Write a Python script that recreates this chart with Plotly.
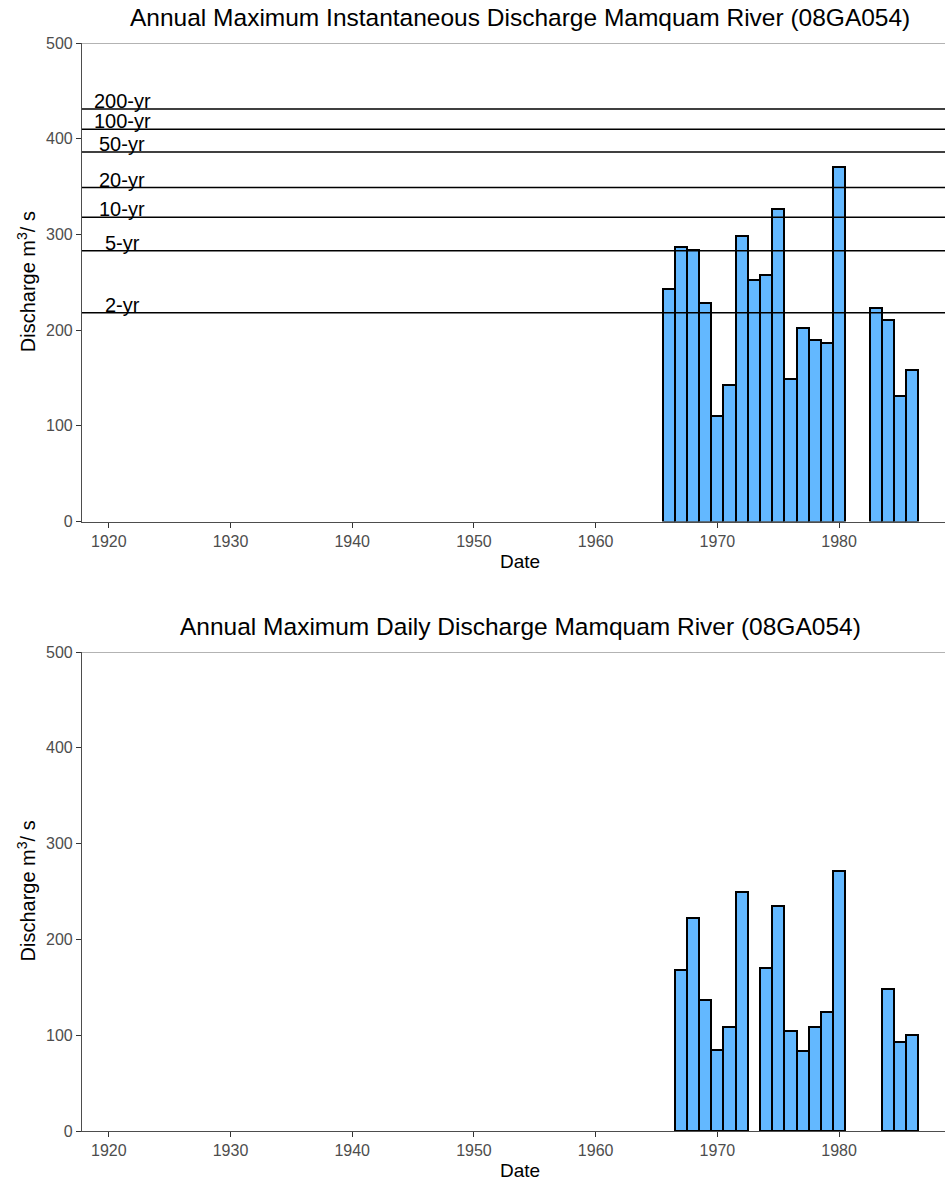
import plotly.graph_objects as go

# Annual maximum instantaneous discharge (m3/s), Mamquam River 08GA054
inst_years = [1966, 1967, 1968, 1969, 1970, 1971, 1972, 1973, 1974, 1975,
              1976, 1977, 1978, 1979, 1980, 1983, 1984, 1985, 1986]
inst_q = [243, 287, 284, 228, 110, 143, 298, 252, 258, 327,
          149, 202, 190, 187, 370, 223, 211, 131, 158]

# Annual maximum daily discharge (m3/s)
daily_years = [1967, 1968, 1969, 1970, 1971, 1972, 1974, 1975, 1976, 1977,
               1978, 1979, 1980, 1984, 1985, 1986]
daily_q = [168, 222, 137, 85, 109, 249, 170, 235, 104, 84,
           109, 124, 271, 148, 93, 100]

# Return-period flood estimates
rp_labels = ["2-yr", "5-yr", "10-yr", "20-yr", "50-yr", "100-yr", "200-yr"]
rp_q = [218, 283, 318, 349, 386, 410, 431]

titles = ["Annual Maximum Instantaneous Discharge Mamquam River (08GA054)",
          "Annual Maximum Daily Discharge Mamquam River (08GA054)"]
x_ticks = [1920, 1930, 1940, 1950, 1960, 1970, 1980]
y_ticks = [0, 100, 200, 300, 400, 500]

FONT = "Liberation Sans, Arial, sans-serif"
BAR_FILL = "#63B8FF"
TICK_GREY = "#4d4d4d"

W, H = 945, 1181
M_L, M_R, M_T, M_B = 82, 0, 43, 50
plot_w = W - M_L - M_R
plot_h = H - M_T - M_B


def py(px):
    """Pixel row -> paper y fraction."""
    return (H - M_B - px) / plot_h


def pxx(px):
    """Pixel column -> paper x fraction."""
    return (px - M_L) / plot_w


top_dom = [py(521.5), 1.0]
bot_dom = [0.0, py(652)]
x_range = [1917.8, 1988.7]

fig = go.Figure()

fig.add_trace(go.Bar(
    x=inst_years, y=inst_q, width=1.0,
    marker=dict(color=BAR_FILL, line=dict(color="black", width=2)),
    xaxis="x", yaxis="y", showlegend=False, hoverinfo="x+y"))

fig.add_trace(go.Bar(
    x=daily_years, y=daily_q, width=1.0,
    marker=dict(color=BAR_FILL, line=dict(color="black", width=2)),
    xaxis="x2", yaxis="y2", showlegend=False, hoverinfo="x+y"))

axis_common = dict(
    showgrid=False, zeroline=False, showline=True,
    linecolor="#4d4d4d", linewidth=1.2,
    ticks="outside", ticklen=5, tickwidth=1.2, tickcolor="#333333",
    tickfont=dict(family=FONT, size=16, color=TICK_GREY),
)

fig.update_layout(
    width=W, height=H,
    margin=dict(l=M_L, r=M_R, t=M_T, b=M_B),
    plot_bgcolor="white", paper_bgcolor="white",
    bargap=0,
    xaxis=dict(domain=[0, 1], range=x_range, tickvals=x_ticks, anchor="y", **axis_common),
    yaxis=dict(domain=top_dom, range=[0, 500], tickvals=y_ticks, anchor="x", **axis_common),
    xaxis2=dict(domain=[0, 1], range=x_range, tickvals=x_ticks, anchor="y2", **axis_common),
    yaxis2=dict(domain=bot_dom, range=[0, 500], tickvals=y_ticks, anchor="x2", **axis_common),
)

shapes = []
annotations = []

# Light frame line along the top of each panel
for yref in ["y", "y2"]:
    xr = "x" if yref == "y" else "x2"
    shapes.append(dict(type="line", xref=f"{xr} domain", yref=yref,
                       x0=0, x1=1, y0=500, y1=500,
                       line=dict(color="#9a9a9a", width=1.5)))

# Return-period lines and labels on the instantaneous panel
for lab, q in zip(rp_labels, rp_q):
    shapes.append(dict(type="line", xref="x domain", yref="y",
                       x0=0, x1=1, y0=q, y1=q,
                       line=dict(color="black", width=1.5), layer="above"))
    annotations.append(dict(x=1921.1, y=q, xref="x", yref="y", text=lab,
                            showarrow=False, xanchor="center", yanchor="bottom",
                            yshift=-5,
                            font=dict(family=FONT, size=20, color="black")))

center_x = pxx(520)
for title, dom in zip(titles, [top_dom, bot_dom]):
    # Panel title
    annotations.append(dict(x=center_x, y=dom[1], xref="paper", yref="paper",
                            text=title, showarrow=False, xanchor="center",
                            yanchor="bottom", yshift=10,
                            font=dict(family=FONT, size=24.5, color="black")))
    # x-axis title
    annotations.append(dict(x=center_x, y=dom[0], xref="paper", yref="paper",
                            text="Date", showarrow=False, xanchor="center",
                            yanchor="top", yshift=-27,
                            font=dict(family=FONT, size=19, color="black")))
    # y-axis title
    annotations.append(dict(x=pxx(26), y=(dom[0] + dom[1]) / 2,
                            xref="paper", yref="paper",
                            text="Discharge m<sup>3</sup>/ s", textangle=-90,
                            showarrow=False, xanchor="center", yanchor="middle",
                            font=dict(family=FONT, size=20, color="black")))

fig.update_layout(shapes=shapes, annotations=annotations)

fig.write_html("out.html")
